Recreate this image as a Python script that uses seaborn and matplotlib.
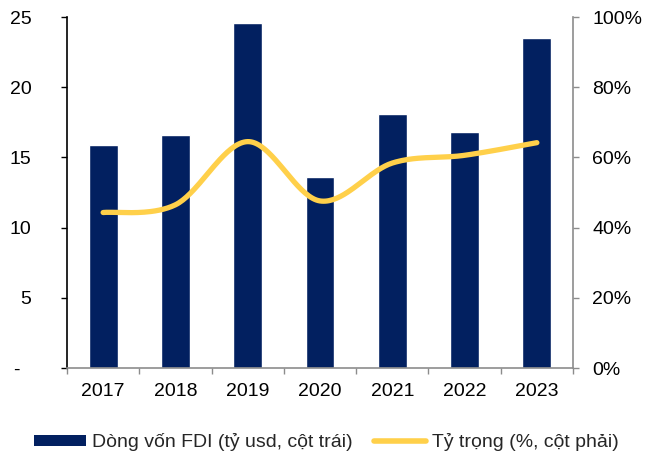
import matplotlib
matplotlib.use("Agg")
import matplotlib.pyplot as plt
import matplotlib.ticker as mticker
from matplotlib.patches import Patch
from matplotlib.lines import Line2D
import seaborn as sns
import numpy as np
import pandas as pd

years = ["2017", "2018", "2019", "2020", "2021", "2022", "2023"]
fdi_flow = [15.85, 16.6, 24.55, 13.6, 18.1, 16.8, 23.5]
share_pct = [44.3, 46.5, 64.5, 47.6, 58.4, 60.6, 64.2]

bar_color = "#022060"
line_color = "#FFD04A"

sns.set_theme(style="white")
plt.rcParams["font.family"] = ["Liberation Sans", "DejaVu Sans"]


def smooth(xs, ys, n=40):
    # Excel-style smoothed line: cubic Bezier through points, Catmull-Rom tangents
    xs = np.asarray(xs, float)
    ys = np.asarray(ys, float)
    px, py = [], []
    for i in range(len(xs) - 1):
        x0, y0 = (xs[i - 1], ys[i - 1]) if i > 0 else (xs[i], ys[i])
        x3, y3 = (xs[i + 2], ys[i + 2]) if i + 2 < len(xs) else (xs[i + 1], ys[i + 1])
        x1, y1, x2, y2 = xs[i], ys[i], xs[i + 1], ys[i + 1]
        c1x, c1y = x1 + (x2 - x0) / 6, y1 + (y2 - y0) / 6
        c2x, c2y = x2 - (x3 - x1) / 6, y2 - (y3 - y1) / 6
        t = np.linspace(0, 1, n)
        px.append((1 - t) ** 3 * x1 + 3 * (1 - t) ** 2 * t * c1x + 3 * (1 - t) * t ** 2 * c2x + t ** 3 * x2)
        py.append((1 - t) ** 3 * y1 + 3 * (1 - t) ** 2 * t * c1y + 3 * (1 - t) * t ** 2 * c2y + t ** 3 * y2)
    return np.concatenate(px), np.concatenate(py)


df = pd.DataFrame({"year": years, "fdi": fdi_flow, "share": share_pct})

fig = plt.figure(figsize=(6.46, 4.55), dpi=100)
ax = fig.add_axes([0.1037, 0.1912, 0.7833, 0.7714])

sns.barplot(data=df, x="year", y="fdi", color=bar_color, saturation=1, width=0.4, ax=ax)
ax.set_xlim(-0.5, len(years) - 0.5)
ax.set_ylim(0, 25)
ax.set_yticks([0, 5, 10, 15, 20, 25])
ax.yaxis.set_major_formatter(mticker.FuncFormatter(lambda v, p: "-  " if v == 0 else f"{v:g}"))
ax.set_xlabel("")
ax.set_ylabel("")

ax2 = ax.twinx()
sx, sy = smooth(range(len(years)), share_pct)
ax2.plot(sx, sy, color=line_color, lw=3.8, solid_capstyle="round")
ax2.set_ylim(0, 100)
ax2.set_yticks(range(0, 101, 20))
ax2.yaxis.set_major_formatter(mticker.FuncFormatter(lambda v, p: f"{v:.0f}%"))

for a in (ax, ax2):
    for s in a.spines.values():
        s.set_visible(False)
ax.spines["left"].set_visible(True)
ax.spines["left"].set_color("black")
ax.spines["left"].set_linewidth(1.2)
ax.spines["bottom"].set_visible(True)
ax.spines["bottom"].set_color("#8c8c8c")
ax.spines["bottom"].set_linewidth(1.2)
ax2.spines["right"].set_visible(True)
ax2.spines["right"].set_color("#8c8c8c")
ax2.spines["right"].set_linewidth(1.2)

ax.tick_params(axis="y", left=True, length=4.5, width=1, color="black", labelsize=14, pad=21)
ax.tick_params(axis="x", which="major", length=0, labelsize=14, pad=11)
ax.set_xticks(np.arange(-0.5, len(years), 1), minor=True)
ax.tick_params(axis="x", which="minor", bottom=True, length=4, width=1, color="#8c8c8c")
ax2.tick_params(axis="y", right=True, length=4, width=1, color="#8c8c8c", labelsize=14, pad=10)

for lab in ax.get_xticklabels() + ax.get_yticklabels() + ax2.get_yticklabels():
    lab.set_color("black")

handles = [
    Patch(facecolor=bar_color, edgecolor="none", label="Dòng vốn FDI (tỷ usd, cột trái)"),
    Line2D([0], [0], color=line_color, lw=4, label="Tỷ trọng (%, cột phải)"),
]
fig.legend(handles=handles, loc="center", bbox_to_anchor=(0.505, 0.028), ncol=2, frameon=False,
           fontsize=14, handlelength=2.7, handleheight=0.45, handletextpad=0.3, columnspacing=1.1,
           borderpad=0)

fig.savefig("out.png", dpi=100)
